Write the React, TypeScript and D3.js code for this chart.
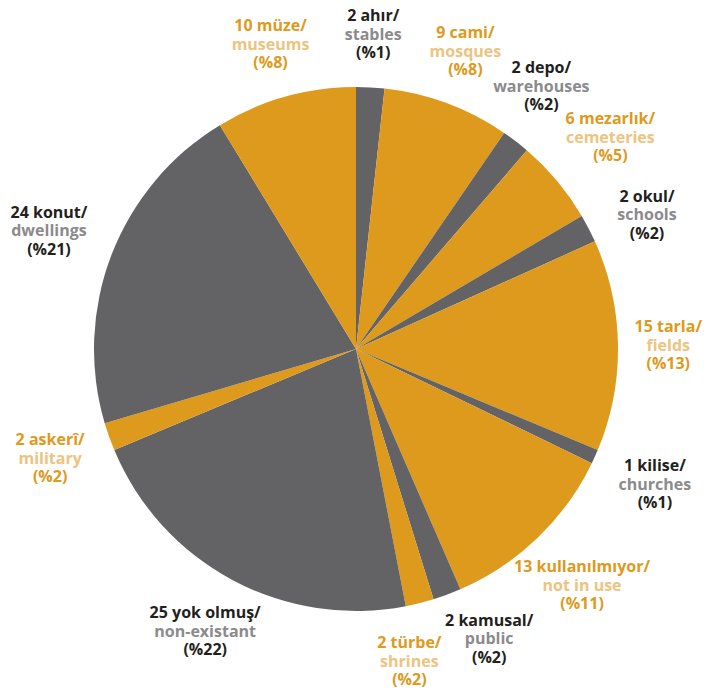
import React from "react";
import * as d3 from "d3";

const trNames = ["ahır", "cami", "depo", "mezarlık", "okul", "tarla", "kilise", "kullanılmıyor", "kamusal", "türbe", "yok olmuş", "askerî", "konut", "müze"];
const enNames = ["stables", "mosques", "warehouses", "cemeteries", "schools", "fields", "churches", "not in use", "public", "shrines", "non-existant", "military", "dwellings", "museums"];
const counts = [2, 9, 2, 6, 2, 15, 1, 13, 2, 2, 25, 2, 24, 10];
const percents = ["%1", "%8", "%2", "%5", "%2", "%13", "%1", "%11", "%2", "%2", "%22", "%2", "%21", "%8"];
const groups = ["gray", "orange", "gray", "orange", "gray", "orange", "gray", "orange", "gray", "orange", "gray", "orange", "gray", "orange"];

const W = 706, H = 698;
const CX = 356, CY = 349, R = 262, GAP = 26;
const MIN_SEP = (15 * Math.PI) / 180;
const FONT_SIZE = 16, LINE_H = 18.5, FONT_W = 700;
const FONT = "'Open Sans', sans-serif";

const sliceColor: Record<string, string> = { gray: "#636265", orange: "#DD9A1C" };
const textMain: Record<string, string> = { gray: "#231F20", orange: "#DD9A1C" };
const textSub: Record<string, string> = { gray: "#8B8A8D", orange: "#ECC47F" };

let measureCtx: CanvasRenderingContext2D | null = null;
function textWidth(s: string) {
  if (!measureCtx) {
    measureCtx = document.createElement("canvas").getContext("2d");
  }
  if (!measureCtx) return s.length * 8.5;
  measureCtx.font = `${FONT_W} ${FONT_SIZE}px 'Open Sans'`;
  return measureCtx.measureText(s).width;
}

export default function App() {
  const idx = d3.range(counts.length);
  const pie = d3.pie<number>().sort(null).value((i) => counts[i]);
  const arcs = pie(idx);
  const arcGen = d3.arc<d3.PieArcDatum<number>>().innerRadius(0).outerRadius(R);

  // label angles, relaxed so neighbours don't collide
  const angles = arcs.map((a) => (a.startAngle + a.endAngle) / 2);
  for (let iter = 0; iter < 200; iter++) {
    for (let i = 0; i < angles.length - 1; i++) {
      const d = angles[i + 1] - angles[i];
      if (d < MIN_SEP) {
        const push = (MIN_SEP - d) / 2;
        angles[i] -= push;
        angles[i + 1] += push;
      }
    }
  }

  return (
    <svg width={W} height={H} style={{ position: "absolute", left: 0, top: 0, background: "#fff" }}
      fontFamily={FONT} fontWeight={FONT_W} fontSize={FONT_SIZE}>
      <g transform={`translate(${CX},${CY})`}>
        {arcs.map((a, k) => (
          <path key={k} d={arcGen(a) || ""} fill={sliceColor[groups[a.data]]} />
        ))}
        {arcs.map((a, k) => {
          const i = a.data;
          const g = groups[i];
          const lines = [`${counts[i]} ${trNames[i]}/`, enNames[i], `(${percents[i]})`];
          const hw = Math.max(...lines.map(textWidth)) / 2;
          const hh = LINE_H * 1.5;
          const ang = angles[k];
          const sx = Math.sin(ang), cy = -Math.cos(ang);
          const t = Math.min(hw / Math.max(Math.abs(sx), 1e-6), hh / Math.max(Math.abs(cy), 1e-6));
          const rr = R + GAP + t;
          let x = rr * sx;
          let y = rr * cy;
          // keep the block inside the picture
          x = Math.max(-CX + hw + 4, Math.min(W - CX - hw - 4, x));
          y = Math.max(-CY + hh + 2, Math.min(H - CY - hh - 2, y));
          return (
            <text key={"l" + k} textAnchor="middle" dominantBaseline="central">
              {lines.map((s, j) => (
                <tspan key={j} x={x} y={y + (j - 1) * LINE_H} fill={j === 1 ? textSub[g] : textMain[g]}>{s}</tspan>
              ))}
            </text>
          );
        })}
      </g>
    </svg>
  );
}
